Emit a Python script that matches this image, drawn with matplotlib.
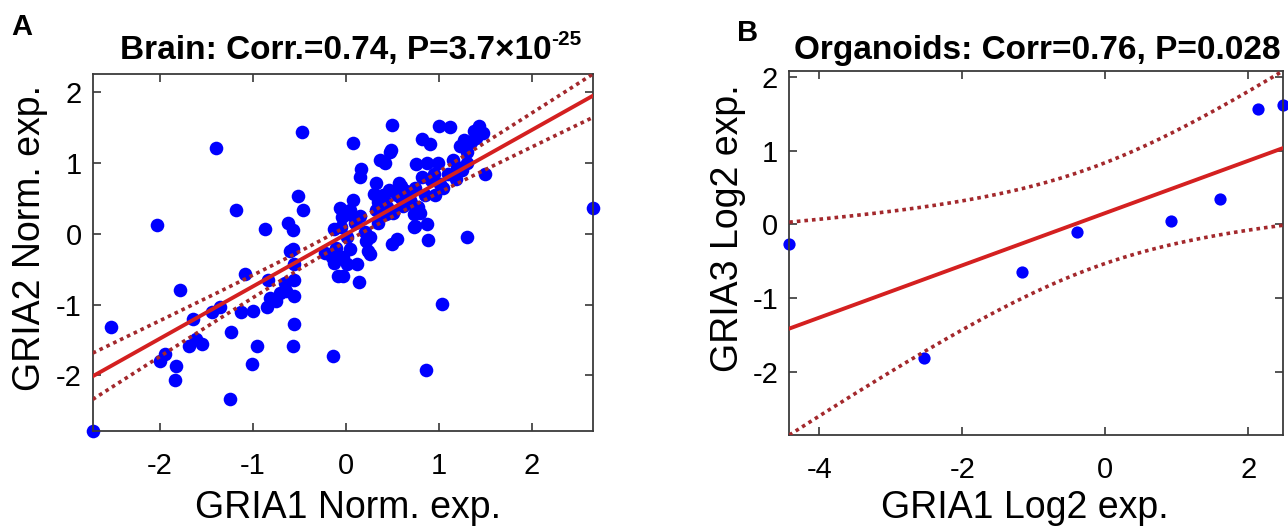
import numpy as np
import matplotlib
matplotlib.use("Agg")
import matplotlib.pyplot as plt

plt.rcParams['font.family'] = ['Liberation Sans', 'DejaVu Sans']
plt.rcParams['axes.unicode_minus'] = False

# ---------------- Panel A data (Brain) ----------------
brain_gria1 = [
    -2.72, -2.52, -2.03, -1.39, -0.47, -1.18, -0.87, -1.78, -2.00, -1.94,
    -1.82, -1.84, -1.23, -1.24, -1.01, -0.95, -0.14, 0.86, 1.04, 1.31,
    2.66, -1.64, -1.68, -1.55, -1.61, -1.44, -1.35, -1.13, -1.08, -1.00,
    -0.83, -0.85, -0.81, -0.71, -0.64, -0.56, -0.56, -0.56, -0.57, -0.56,
    -0.57, -0.62, -0.57, -0.51, -0.46, -0.13, -0.06, -0.04, 0.08, 0.05,
    0.01, 0.05, -0.03, -0.15, -0.13, -0.03, 0.01, 0.12, 0.14, 0.26,
    0.26, 0.21, 0.33, 0.37, 0.48, 0.50, 0.55, 0.57, 0.51, 0.44,
    0.73, 0.87, 0.89, 0.76, 0.87, 0.96, 1.05, 1.19, 1.30, 1.23,
    0.82, 0.91, 0.17, 0.15, 0.78, 0.80, 0.69, 0.08, 0.50, 1.00,
    1.12, 1.43, 1.48, 1.50, 1.27, 0.49, 0.42, 0.99, 0.82, 0.92,
    1.02, 1.25, 0.30, 0.47, 0.42, 0.59, 0.70, 0.73, 0.75, 0.22,
    0.24, 0.02, -0.05, 0.43, 0.33, 0.60, 1.38, 1.20, 0.62, 0.35,
    -0.22, -0.08, -0.60, 0.35, 0.40, 0.55, 0.65, 0.75, 0.85, 0.95,
    1.10, 1.15, 1.30, 1.35, -0.65, -0.75, -0.10, 0.10, 0.15, 1.40,
]
brain_gria2 = [
    -2.78, -1.32, 0.12, 1.21, 1.44, 0.33, 0.07, -0.79, -1.79, -1.70,
    -1.87, -2.06, -1.38, -2.33, -1.84, -1.59, -1.72, -1.92, -0.99, -0.05,
    0.37, -1.20, -1.58, -1.55, -1.48, -1.11, -1.03, -1.10, -0.57, -1.09,
    -0.65, -1.03, -0.91, -0.84, -0.81, -0.88, -0.65, -1.28, -1.58, -0.43,
    -0.22, 0.16, 0.05, 0.53, 0.33, 0.07, 0.36, 0.24, 0.48, 0.33,
    -0.05, -0.22, -0.33, -0.33, -0.41, -0.60, -0.43, -0.43, -0.68, -0.29,
    -0.05, 0.02, 0.72, 1.05, 1.15, -0.14, -0.07, 0.72, 0.29, 0.38,
    0.10, 0.14, -0.09, 0.98, 1.00, 0.55, 0.65, 0.77, 1.00, 1.24,
    1.34, 1.27, 0.91, 0.81, 0.38, 0.29, 0.48, 1.28, 1.54, 1.53,
    1.51, 1.52, 1.43, 0.84, 1.33, 1.19, 1.00, 1.00, 0.81, 0.76,
    0.70, 0.90, 0.57, 0.62, 0.47, 0.50, 0.43, 0.28, 0.11, -0.10,
    -0.24, 0.28, 0.10, 0.28, 0.33, 0.68, 1.45, 0.95, 0.40, 0.15,
    -0.27, -0.60, -0.24, 0.45, 0.55, 0.55, 0.60, 0.65, 0.55, 0.85,
    0.85, 1.05, 1.15, 1.30, -0.70, -0.95, -0.20, 0.15, 0.25, 1.35,
]

# ---------------- Panel B data (Organoids) ----------------
org_gria1 = [-4.42, -2.53, -1.16, -0.40, 0.92, 1.60, 2.14, 2.49]
org_gria3 = [-0.27, -1.82, -0.64, -0.10, 0.04, 0.35, 1.57, 1.62]

# two-sided 95% t critical values for the fits (df = n - 2)
T_CRIT_A = 1.977
T_CRIT_B = 2.447

titleA_main = 'Brain: Corr.=0.74, P=3.7×10'
titleA_sup = '-25'
titleB = 'Organoids: Corr=0.76, P=0.028'
xlabelA, ylabelA = 'GRIA1 Norm. exp.', 'GRIA2 Norm. exp.'
xlabelB, ylabelB = 'GRIA1 Log2 exp.', 'GRIA3 Log2 exp.'
ticksA_x = [-2, -1, 0, 1, 2]
ticksA_y = [-2, -1, 0, 1, 2]
ticksB_x = [-4, -2, 0, 2]
ticksB_y = [-2, -1, 0, 1, 2]

FIT_COLOR = '#d42020'
CI_COLOR = '#a3282c'
PT_COLOR = '#0000ff'


def fit_with_ci(x, y, tcrit, npts=200):
    x = np.asarray(x, float)
    y = np.asarray(y, float)
    n = len(x)
    slope, intercept = np.polyfit(x, y, 1)
    resid = y - (slope * x + intercept)
    s = np.sqrt(np.sum(resid ** 2) / (n - 2))
    xm = x.mean()
    sxx = np.sum((x - xm) ** 2)
    xs = np.linspace(x.min(), x.max(), npts)
    ys = slope * xs + intercept
    half = tcrit * s * np.sqrt(1.0 / n + (xs - xm) ** 2 / sxx)
    return xs, ys, ys - half, ys + half


def draw_panel(ax, x, y, tcrit, msize, xticks, yticks):
    xs, ys, lo, hi = fit_with_ci(x, y, tcrit)
    ax.plot(x, y, 'o', color=PT_COLOR, markersize=msize, clip_on=False, zorder=2,
            markeredgewidth=0)
    ax.plot(xs, ys, '-', color=FIT_COLOR, lw=2.8, zorder=3)
    ax.plot(xs, lo, color=CI_COLOR, lw=2.6, linestyle=(0, (1, 1.1)), zorder=3)
    ax.plot(xs, hi, color=CI_COLOR, lw=2.6, linestyle=(0, (1, 1.1)), zorder=3)
    ax.set_xlim(min(x), max(x))
    ax.set_ylim(min(min(y), lo.min()), max(max(y), hi.max()))
    ax.set_xticks(xticks)
    ax.set_yticks(yticks)
    ax.tick_params(direction='in', length=6, width=1.1, top=True, right=True,
                   labelsize=21, colors='#262626', labelcolor='black')
    ax.tick_params(axis='x', pad=15)
    ax.tick_params(axis='y', pad=8)
    for sp in ax.spines.values():
        sp.set_color('#3a3a3a')
        sp.set_linewidth(1.3)


fig = plt.figure(figsize=(12.88, 5.30), dpi=100)
axA = fig.add_axes([0.072, 0.1874, 0.3884, 0.673])
axB = fig.add_axes([0.6128, 0.1792, 0.3836, 0.6875])

draw_panel(axA, brain_gria1, brain_gria2, T_CRIT_A, 9.8, ticksA_x, ticksA_y)
draw_panel(axB, org_gria1, org_gria3, T_CRIT_B, 8.8, ticksB_x, ticksB_y)

for ax, xl, yl, xc, yc in [
    (axA, xlabelA, ylabelA, (0.51, -0.217), (-0.125, 0.54)),
    (axB, xlabelB, ylabelB, (0.477, -0.200), (-0.125, 0.568)),
]:
    ax.set_xlabel(xl, fontsize=27, va='center', ha='center')
    ax.set_ylabel(yl, fontsize=27, va='center', ha='center')
    ax.xaxis.set_label_coords(*xc)
    ax.yaxis.set_label_coords(*yc)

W, H = 1288, 530
fig.text(552 / W, 1 - 59 / H, titleA_main, fontsize=24, fontweight='bold',
         ha='right', va='baseline')
fig.text(551 / W, 1 - 45 / H, titleA_sup, fontsize=15, fontweight='bold',
         ha='left', va='baseline')
fig.text(1037 / W, 1 - 59 / H, titleB, fontsize=24, fontweight='bold',
         ha='center', va='baseline')
fig.text(22 / W, 1 - 27 / H, 'A', fontsize=21, fontweight='bold',
         ha='center', va='center')
fig.text(748 / W, 1 - 33 / H, 'B', fontsize=21, fontweight='bold',
         ha='center', va='center')

fig.savefig('out.png', dpi=100, facecolor='white')
